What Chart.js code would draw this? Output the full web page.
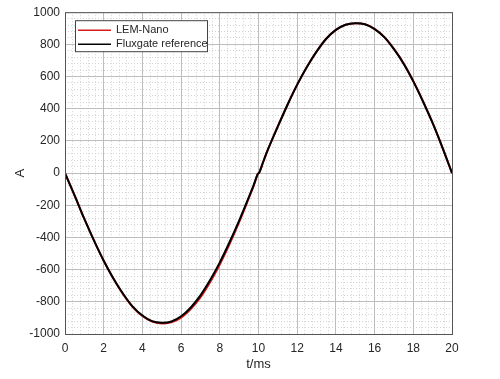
<!DOCTYPE html>
<html>
<head>
<meta charset="utf-8">
<script src="https://cdn.jsdelivr.net/npm/chart.js@4.4.0/dist/chart.umd.min.js"></script>
<style>
  html, body { margin: 0; padding: 0; background: #fff; }
  #wrap { width: 500px; height: 379px; }
</style>
</head>
<body>
<div id="wrap"><canvas id="grafico"></canvas></div>
<script>
// tempo em ms
const timeMs = [0, 0.5, 1, 1.5, 2, 2.5, 3, 3.5, 4, 4.5, 5, 5.5, 6, 6.5, 7, 7.5, 8, 8.5, 9, 9.5,
    9.75, 9.95, 10.05, 10.25, 10.5, 11, 11.5, 12, 12.5, 13, 13.5, 14, 14.5, 15, 15.5, 16, 16.5,
    17, 17.5, 18, 18.5, 19, 19.5, 20];

// corrente medida (A)
const lemNano = [0, -140, -285, -420, -545, -655, -752, -832, -888, -923, -934, -928, -898, -845,
    -772, -678, -568, -443, -305, -156, -80, -10, 6, 72, 150, 290, 425, 550, 660, 755, 835, 890,
    922, 932, 925, 896, 846, 772, 682, 572, 447, 312, 162, 0];

const fluxgate = [0, -140, -285, -420, -545, -655, -750, -830, -885, -920, -930, -922, -890, -835,
    -760, -665, -555, -430, -295, -150, -75, -8, 6, 72, 150, 290, 425, 550, 660, 755, 835, 890,
    922, 932, 925, 895, 845, 770, 680, 570, 445, 310, 160, 0];

const xTicks = { min: 0, max: 20, step: 2, minorStep: 0.4 };
const yTicks = { min: -1000, max: 1000, step: 200, minorStep: 40 };

const textColor = '#262626';
const fontFamily = '"Liberation Sans", Arial, sans-serif';

function toPoints(values) {
    return timeMs.map((t, i) => ({ x: t, y: values[i] }));
}

// caixa da legenda e moldura dos eixos
const moldura = {
    id: 'moldura',
    afterDraw(chart) {
        const { ctx, chartArea } = chart;
        ctx.save();
        ctx.strokeStyle = '#555';
        ctx.lineWidth = 1;
        ctx.strokeRect(chartArea.left + 0.5, chartArea.top + 0.5,
            chartArea.right - chartArea.left, chartArea.bottom - chartArea.top);

        const x0 = chartArea.left + 10, y0 = chartArea.top + 8;
        ctx.fillStyle = '#fff';
        ctx.fillRect(x0, y0, 132, 31);
        ctx.strokeStyle = '#444';
        ctx.strokeRect(x0 + 0.5, y0 + 0.5, 132, 31);
        ctx.font = '11px ' + fontFamily;
        ctx.textBaseline = 'middle';
        chart.data.datasets.forEach((ds, i) => {
            const yy = y0 + 10 + i * 14;
            ctx.strokeStyle = ds.borderColor;
            ctx.lineWidth = 1.5;
            ctx.beginPath();
            ctx.moveTo(x0 + 3, yy);
            ctx.lineTo(x0 + 36, yy);
            ctx.stroke();
            ctx.fillStyle = textColor;
            ctx.fillText(ds.label, x0 + 41, yy);
        });
        ctx.restore();
    }
};

function createChart() {
    const ctx = document.getElementById('grafico').getContext('2d');
    new Chart(ctx, {
        type: 'line',
        data: {
            datasets: [
                {
                    label: 'LEM-Nano',
                    data: toPoints(lemNano),
                    borderColor: '#d41c1c',
                    borderWidth: 2,
                    pointRadius: 0,
                    tension: 0.3,
                    order: 1
                },
                {
                    label: 'Fluxgate reference',
                    data: toPoints(fluxgate),
                    borderColor: '#000000',
                    borderWidth: 2,
                    pointRadius: 0,
                    tension: 0.3,
                    order: 0
                }
            ]
        },
        options: {
            responsive: true,
            maintainAspectRatio: false,
            animation: false,
            layout: { padding: { top: 10, right: 48, left: 0, bottom: 0 } },
            plugins: {
                legend: { display: false },
                tooltip: { enabled: false }
            },
            scales: {
                xMinor: {
                    type: 'linear',
                    position: 'bottom',
                    min: xTicks.min, max: xTicks.max,
                    ticks: { display: false, stepSize: xTicks.minorStep, maxTicksLimit: 100 },
                    grid: { color: '#d4d4d4', drawTicks: false },
                    border: { display: false, dash: [1, 2] },
                    afterFit: s => { s.height = 0; }
                },
                yMinor: {
                    type: 'linear',
                    position: 'left',
                    min: yTicks.min, max: yTicks.max,
                    ticks: { display: false, stepSize: yTicks.minorStep, maxTicksLimit: 100 },
                    grid: { color: '#d4d4d4', drawTicks: false },
                    border: { display: false, dash: [1, 2] },
                    afterFit: s => { s.width = 0; }
                },
                x: {
                    type: 'linear',
                    position: 'bottom',
                    min: xTicks.min, max: xTicks.max,
                    ticks: { stepSize: xTicks.step, color: textColor, padding: 7,
                        font: { size: 12, family: fontFamily },
                        callback: v => String(v) },
                    grid: { color: '#bdbdbd', drawTicks: false },
                    border: { display: false },
                    title: { display: true, text: 't/ms', color: textColor,
                        font: { size: 13, family: fontFamily }, padding: { top: 0, bottom: 7 } },
                    afterFit: s => { s.height = 45; }
                },
                y: {
                    type: 'linear',
                    position: 'left',
                    min: yTicks.min, max: yTicks.max,
                    ticks: { stepSize: yTicks.step, color: textColor, padding: 5,
                        font: { size: 12, family: fontFamily },
                        callback: v => String(v) },
                    grid: { color: '#bdbdbd', drawTicks: false },
                    border: { display: false },
                    title: { display: true, text: 'A', color: textColor,
                        font: { size: 13, family: fontFamily }, padding: { top: 13, bottom: 0 } },
                    afterFit: s => { s.width = 65; }
                }
            }
        },
        plugins: [moldura]
    });
}

window.onload = createChart;
</script>
</body>
</html>
